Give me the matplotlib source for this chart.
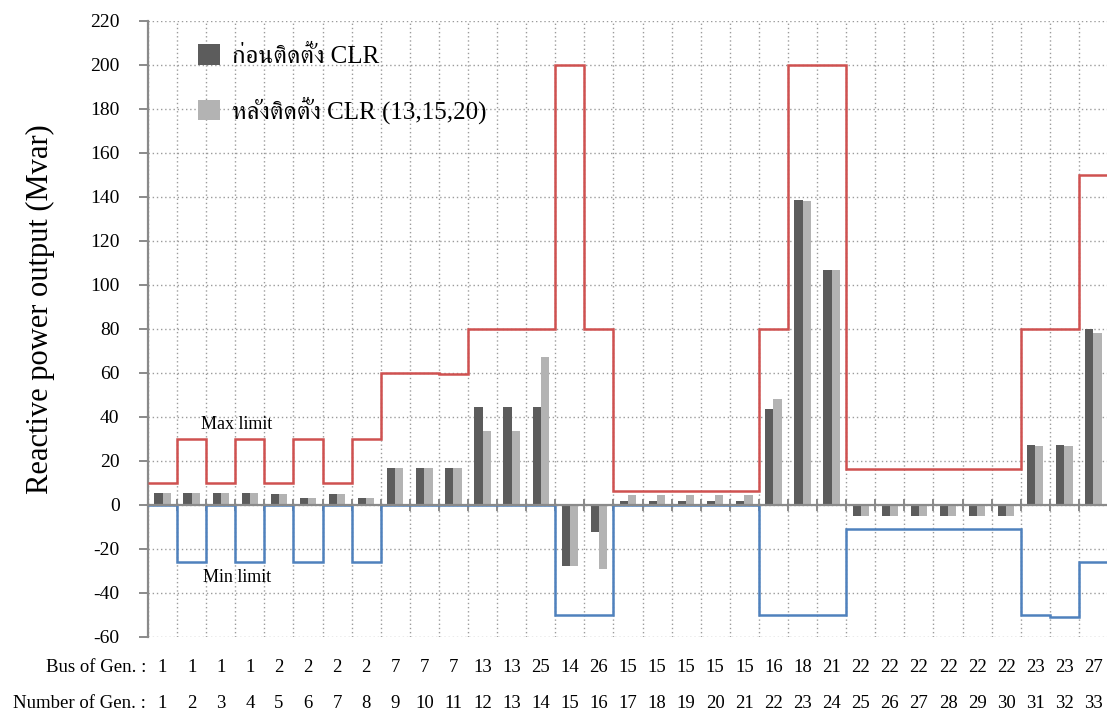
import numpy as np
import matplotlib
matplotlib.use("Agg")
import matplotlib.pyplot as plt
from matplotlib import font_manager
from matplotlib.ft2font import FT2Font
from matplotlib.patches import Patch
from matplotlib.transforms import blended_transform_factory

# ---- data ---------------------------------------------------------------
gen_numbers = list(range(1, 34))
bus_of_gen = [1, 1, 1, 1, 2, 2, 2, 2, 7, 7, 7, 13, 13, 25, 14, 26,
              15, 15, 15, 15, 15, 16, 18, 21, 22, 22, 22, 22, 22, 22, 23, 23, 27]

# reactive power output (Mvar) before / after installing CLR
q_before = [5.5, 5.5, 5.5, 5.5, 4.8, 3.0, 4.8, 3.0, 16.6, 16.6, 16.6,
            44.6, 44.6, 44.6, -27.7, -12.6, 1.7, 1.7, 1.7, 1.7, 1.7,
            43.6, 138.5, 106.7, -5, -5, -5, -5, -5, -5, 27.2, 27.2, 80.0]
q_after = [5.5, 5.5, 5.5, 5.5, 4.8, 3.0, 4.8, 2.8, 16.6, 16.6, 16.6,
           33.3, 33.3, 67.3, -27.7, -29.2, 4.5, 4.5, 4.5, 4.5, 4.5,
           48.1, 138.2, 106.7, -5, -5, -5, -5, -5, -5, 26.5, 26.5, 78.2]

# generator reactive limits (Mvar)
q_max = [10, 30, 10, 30, 10, 30, 10, 30, 60, 60, 59.5, 80, 80, 80, 200, 80,
         6, 6, 6, 6, 6, 80, 200, 200, 16, 16, 16, 16, 16, 16, 80, 80, 150]
q_min = [0, -26, 0, -26, 0, -26, 0, -26, 0, 0, 0, 0, 0, 0, -50, -50,
         0, 0, 0, 0, 0, -50, -50, -50, -11, -11, -11, -11, -11, -11, -50, -51, -26]

legend_labels = ["ก่อนติดตั้ง CLR", "หลังติดตั้ง CLR (13,15,20)"]
y_label = "Reactive power output (Mvar)"


# ---- fonts --------------------------------------------------------------
def thai_family():
    sample = "กอนติดตั้งหลั่้"
    found = []
    for fe in font_manager.fontManager.ttflist:
        try:
            cmap = FT2Font(fe.fname).get_charmap()
        except Exception:
            continue
        if all(ord(c) in cmap for c in sample):
            found.append(fe.name)
    if not found:
        return None
    for pref in ("Serif", "Norasi", "Kinnari", "Loma", "Garuda"):
        for name in found:
            if pref in name:
                return name
    return found[0]


SERIF = "Liberation Serif"
thai = thai_family()
text_family = [SERIF] + ([thai] if thai else []) + ["DejaVu Sans"]
plt.rcParams["font.family"] = text_family
plt.rcParams["axes.unicode_minus"] = False

W, H = 1107, 718
fig = plt.figure(figsize=(W / 100, H / 100), dpi=100)
ax_left, ax_right, ax_top, ax_bottom = 148, 1108, 20.5, 636.7
ax = fig.add_axes([ax_left / W, 1 - ax_bottom / H,
                   (ax_right - ax_left) / W, (ax_bottom - ax_top) / H])

x = np.array(gen_numbers, dtype=float)
edges = np.arange(0.5, len(x) + 1.0, 1.0)

ax.set_xlim(0.5, len(x) + 0.5)
ax.set_ylim(-60, 220)

grid_col = "#9b9b9b"
axis_col = "#8a8a8a"
ax.set_yticks(np.arange(-60, 221, 20))
ax.set_xticks(edges)
ax.set_xticklabels([])
ax.grid(True, linestyle=(0, (1, 2)), color=grid_col, lw=1.0, zorder=0)
ax.set_axisbelow(True)

for s in ("top", "right"):
    ax.spines[s].set_visible(False)
ax.spines["left"].set_color(axis_col)
ax.spines["left"].set_linewidth(1.6)
ax.spines["bottom"].set_position(("data", 0))
ax.spines["bottom"].set_color(axis_col)
ax.spines["bottom"].set_linewidth(1.6)
ax.spines["bottom"].set_zorder(5)

ax.tick_params(axis="y", direction="out", length=6.5, width=1.4, color=axis_col,
               pad=14, labelsize=14)
ax.tick_params(axis="x", direction="inout", length=8, width=1.4, color=axis_col)

bw = 0.28
ax.bar(x - bw / 2, q_before, bw, color="#5c5c5c", zorder=3)
ax.bar(x + bw / 2, q_after, bw, color="#b3b3b3", zorder=3)

ax.stairs(q_max, edges, baseline=None, color="#cf5150", lw=1.8, zorder=4)
ax.stairs(q_min, edges, baseline=None, color="#4f81bd", lw=1.8, zorder=4)

ax.text(3.55, 36.3, "Max limit", ha="center", va="center", fontsize=13, family=SERIF)
ax.text(3.55, -33.1, "Min limit", ha="center", va="center", fontsize=13, family=SERIF)

handles = [Patch(facecolor="#5c5c5c"), Patch(facecolor="#b3b3b3")]
ax.legend(handles, legend_labels, loc="upper left", bbox_to_anchor=(0.052, 0.962),
          frameon=False, handlelength=0.9, handleheight=0.9, borderpad=0,
          borderaxespad=0, handletextpad=0.48, labelspacing=1.15,
          prop={"family": text_family, "size": 18})

fig.text(40 / W, 1 - 309 / H, y_label, rotation=90, ha="center", va="center",
         fontsize=22, family=SERIF)

# table of bus / generator numbers under the axis
tr = blended_transform_factory(ax.transData, fig.transFigure)
row_bus, row_num = 1 - 667 / H, 1 - 704 / H
fig.text(146 / W, row_bus, "Bus of Gen. :", ha="right", va="center", fontsize=13.5, family=SERIF)
fig.text(146 / W, row_num, "Number of Gen. :", ha="right", va="center", fontsize=13.5, family=SERIF)
for xi, b, g in zip(x, bus_of_gen, gen_numbers):
    ax.text(xi, row_bus, str(b), transform=tr, ha="center", va="center", fontsize=13.5,
            family=SERIF, clip_on=False)
    ax.text(xi, row_num, str(g), transform=tr, ha="center", va="center", fontsize=13.5,
            family=SERIF, clip_on=False)

fig.savefig("out.png", dpi=100)
